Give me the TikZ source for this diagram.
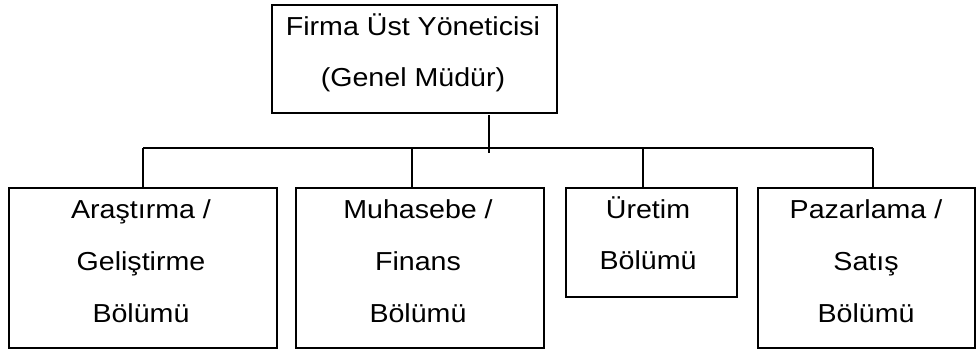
\documentclass[tikz,border=0pt]{standalone}
\usepackage{fontspec}
\setmainfont{Liberation Sans}[FakeStretch=1.1]
\begin{document}
\begin{tikzpicture}[x=1pt,y=1pt,
  box/.style={draw=black,line width=2.2pt,inner sep=0pt,rectangle},
  txt/.style={anchor=base,inner sep=0pt,font=\fontsize{26}{30}\selectfont},
  conn/.style={draw=black,line width=2.2pt}]
\useasboundingbox (0,0) rectangle (976,349);
% boxes
\node[box,minimum width=285pt,minimum height=108pt] (top) at (414.5,290) {};
\node[box,minimum width=268pt,minimum height=160pt] (ar) at (143,81) {};
\node[box,minimum width=248pt,minimum height=160pt] (mu) at (420,81) {};
\node[box,minimum width=171pt,minimum height=109pt] (ur) at (651.5,106.5) {};
\node[box,minimum width=217pt,minimum height=160pt] (pa) at (866.5,81) {};
% texts
\node[txt] (top1) at (413,313) {Firma Üst Yöneticisi};
\node[txt] (top2) at (413,263) {(Genel Müdür)};
\node[txt] (ar1) at (141,131) {Araştırma /};
\node[txt] (ar2) at (141,79) {Geliştirme};
\node[txt] (ar3) at (141,27) {Bölümü};
\node[txt] (mu1) at (418,131) {Muhasebe /};
\node[txt] (mu2) at (418,79) {Finans};
\node[txt] (mu3) at (418,27) {Bölümü};
\node[txt] (ur1) at (648,131) {Üretim};
\node[txt] (ur2) at (648,80) {Bölümü};
\node[txt] (pa1) at (866,131) {Pazarlama /};
\node[txt] (pa2) at (866,79) {Satış};
\node[txt] (pa3) at (866,27) {Bölümü};
% connectors
\coordinate (ts) at (489,234);
\coordinate (te) at (489,196);
\coordinate (ba) at (143,200.7);
\coordinate (bm) at (412,200.7);
\coordinate (bu) at (643,200.7);
\coordinate (bp) at (873,200.7);
\draw[conn] (ts) -- (te);
\draw[conn] (ba) -- (bp);
\draw[conn] (ba) -- (ba |- ar.north);
\draw[conn] (bm) -- (bm |- mu.north);
\draw[conn] (bu) -- (bu |- ur.north);
\draw[conn] (bp) -- (bp |- pa.north);
\end{tikzpicture}
\end{document}
